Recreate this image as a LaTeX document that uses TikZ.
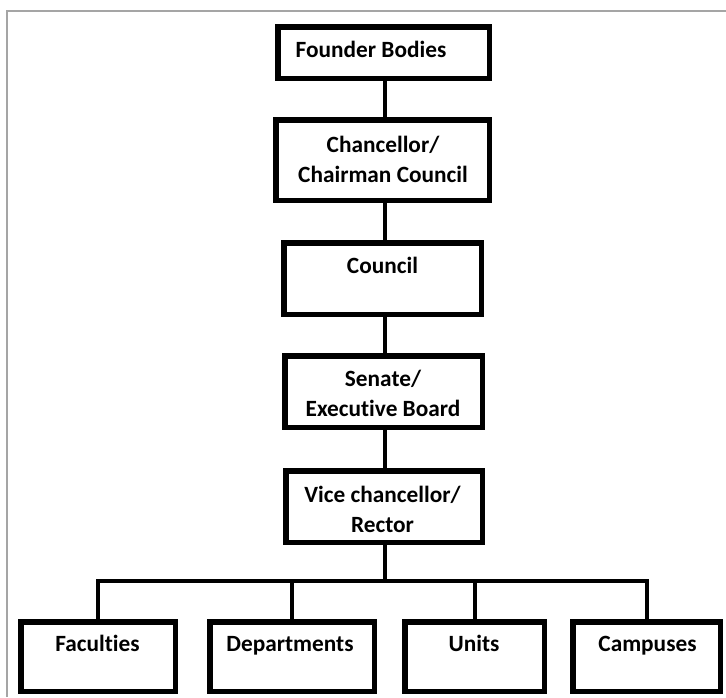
\documentclass[tikz,border=0pt]{standalone}
\usepackage{fontspec}
\setmainfont{Carlito}[Ligatures=NoCommon]
\definecolor{frameg}{RGB}{165,165,165}
\tikzset{
  box/.style={draw=black, line width=5.5pt, rectangle, inner sep=0pt},
  lbl/.style={anchor=base, align=center, inner sep=0pt,
    font=\fontsize{23.3}{30}\selectfont\bfseries},
  link/.style={draw=black, line width=4pt},
}
\begin{document}
\begin{tikzpicture}[x=1pt,y=-1pt]
\useasboundingbox (0,0) rectangle (726,697);
\fill[white] (0,0) rectangle (726,697);
% frame lines (top and left only)
\draw[frameg, line width=1.5pt] (7,697) -- (7,11) -- (726,11);
% boxes
\node[box, minimum width=211.5pt, minimum height=51.5pt] (founder) at (383.5,52.5) {};
\node[box, minimum width=213.5pt, minimum height=80.5pt] (chanc) at (382.5,160) {};
\node[box, minimum width=197.5pt, minimum height=71.5pt] (council) at (382.5,278.5) {};
\node[box, minimum width=197.5pt, minimum height=71.5pt] (senate) at (383.5,391.5) {};
\node[box, minimum width=196.5pt, minimum height=71.5pt] (vice) at (384,506.5) {};
\node[box, minimum width=154.5pt, minimum height=69.5pt] (fac) at (98,656.5) {};
\node[box, minimum width=164.5pt, minimum height=69.5pt] (dep) at (292,656.5) {};
\node[box, minimum width=139.5pt, minimum height=69.5pt] (units) at (474.5,656.5) {};
\node[box, minimum width=147.5pt, minimum height=69.5pt] (camp) at (646.5,656.5) {};
% texts (base anchor = baseline of the last line)
\node[lbl] (tfounder) at (371,57) {Founder Bodies};
\node[lbl] (tchanc) at (383,182) {Chancellor/\\Chairman Council};
\node[lbl] (tcouncil) at (382.5,273) {Council};
\node[lbl] (tsenate) at (383,416) {Senate/\\Executive Board};
\node[lbl] (tvice) at (382.5,532) {Vice chancellor/\\Rector};
\node[lbl] (tfac) at (97.5,651) {Faculties};
\node[lbl] (tdep) at (290,651) {Departments};
\node[lbl] (tunits) at (474,651) {Units};
\node[lbl] (tcamp) at (647.5,651) {Campuses};
% connectors
\coordinate (sp) at (385,0);
\coordinate (bus) at (385,581);
\draw[link] (founder.south -| sp) -- (chanc.north -| sp);
\draw[link] (chanc.south -| sp) -- (council.north -| sp);
\draw[link] (council.south -| sp) -- (senate.north -| sp);
\draw[link] (senate.south -| sp) -- (vice.north -| sp);
\draw[link] (vice.south -| sp) -- (bus);
\draw[link] (fac.north) -- (fac.north |- bus) -- (camp.north |- bus) -- (camp.north);
\draw[link] (dep.north) -- (dep.north |- bus);
\draw[link] (units.north) -- (units.north |- bus);
\end{tikzpicture}
\end{document}
